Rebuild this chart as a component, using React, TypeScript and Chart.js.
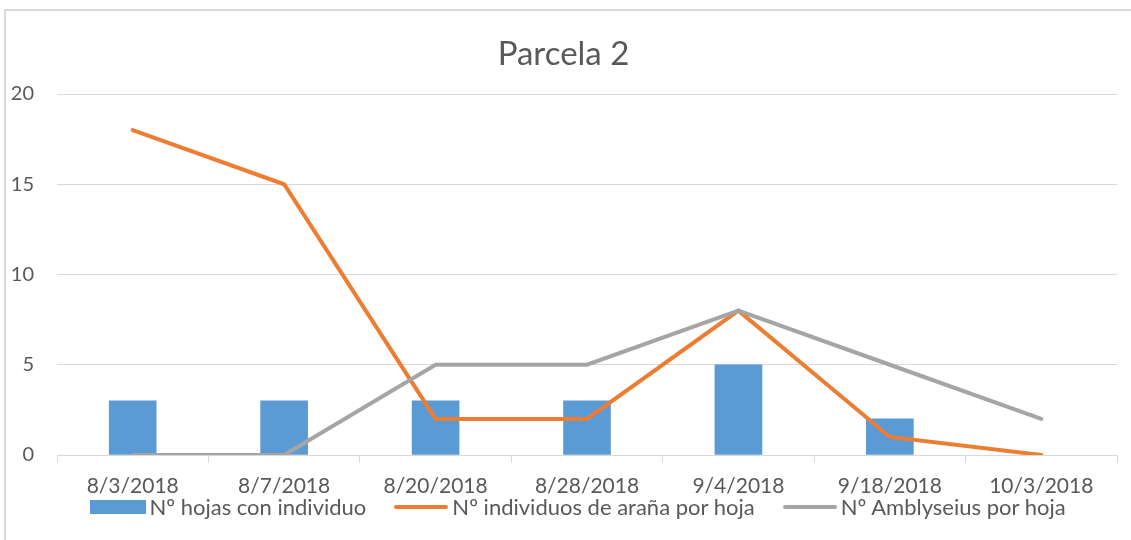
import React, { useEffect, useRef } from "react";
import { Chart, registerables } from "chart.js";

Chart.register(...registerables);

const categories = ["8/3/2018", "8/7/2018", "8/20/2018", "8/28/2018", "9/4/2018", "9/18/2018", "10/3/2018"];
const seriesNames = ["Nº hojas con individuo", "Nº individuos de araña por hoja", "Nº Amblyseius por hoja"];
const hojasConIndividuo = [3, 3, 3, 3, 5, 2, 0];
const individuosArana = [18, 15, 2, 2, 8, 1, 0];
const amblyseius = [0, 0, 5, 5, 8, 5, 2];
const yMin = 0;
const yMax = 20;
const yStep = 5;

const FONT = "Lato, 'Open Sans', sans-serif";
const TEXT = "#595959";
const GRID = "#d9d9d9";
const COLORS = ["#5B9BD5", "#ED7D31", "#A5A5A5"];

export default function App() {
  const ref = useRef<HTMLCanvasElement | null>(null);

  useEffect(() => {
    if (!ref.current) return;
    const chart = new Chart(ref.current, {
      type: "bar",
      data: {
        labels: categories,
        datasets: [
          {
            type: "bar",
            label: seriesNames[0],
            data: hojasConIndividuo,
            backgroundColor: (ctx: any) => (ctx.raw === 0 ? "rgba(0,0,0,0)" : COLORS[0]),
            borderWidth: 0,
            barThickness: 47,
            order: 3,
          } as any,
          {
            type: "line",
            label: seriesNames[1],
            data: individuosArana,
            borderColor: COLORS[1],
            backgroundColor: COLORS[1],
            borderWidth: 4,
            pointRadius: 0,
            borderCapStyle: "round",
            tension: 0,
            order: 2,
          } as any,
          {
            type: "line",
            label: seriesNames[2],
            data: amblyseius,
            borderColor: COLORS[2],
            backgroundColor: COLORS[2],
            borderWidth: 4,
            pointRadius: 0,
            borderCapStyle: "round",
            tension: 0,
            order: 1,
          } as any,
        ],
      },
      options: {
        animation: false,
        responsive: false,
        layout: { padding: { left: 10, right: 14, top: 0, bottom: 29.8 } },
        scales: {
          x: {
            offset: true,
            grid: { display: true, drawOnChartArea: false, tickLength: 8, color: GRID, offset: true },
            border: { display: true, color: GRID },
            ticks: { color: TEXT, font: { family: FONT, size: 21 }, padding: 11, maxRotation: 0 },
          },
          y: {
            min: yMin,
            max: yMax,
            ticks: { stepSize: yStep, color: TEXT, font: { family: FONT, size: 20 }, padding: 23 },
            grid: { color: GRID, drawTicks: false },
            border: { display: false },
            afterFit: (scale: any) => {
              scale.width = 47;
            },
          },
        },
        plugins: {
          title: {
            display: true,
            text: "Parcela 2",
            color: TEXT,
            font: { family: FONT, size: 33, weight: "normal" },
            padding: { top: 35, bottom: 19.4 },
          },
          legend: { display: false },
          tooltip: { enabled: false },
        },
      },
    });
    return () => chart.destroy();
  }, []);

  const legendText: React.CSSProperties = {
    fontFamily: FONT,
    fontSize: 22,
    color: TEXT,
    whiteSpace: "nowrap",
    lineHeight: "24px",
  };

  return (
    <div style={{ position: "fixed", left: 0, top: 0, width: 1131, height: 540, overflow: "hidden", background: "#fff" }}>
      <div
        style={{
          position: "absolute",
          left: 4,
          top: 9,
          width: 1127,
          height: 531,
          borderLeft: `2px solid ${GRID}`,
          borderTop: `2px solid ${GRID}`,
          boxSizing: "border-box",
        }}
      />
      <canvas ref={ref} width={1131} height={540} style={{ position: "absolute", left: 0, top: 0 }} />
      <div
        style={{
          position: "absolute",
          left: 0,
          width: 1156,
          top: 495,
          height: 24,
          display: "flex",
          justifyContent: "center",
          alignItems: "center",
          gap: 28,
        }}
      >
        <div style={{ display: "flex", alignItems: "center", gap: 3 }}>
          <span style={{ display: "inline-block", width: 56, height: 14, background: COLORS[0] }} />
          <span style={legendText}>{seriesNames[0]}</span>
        </div>
        <div style={{ display: "flex", alignItems: "center", gap: 4 }}>
          <span style={{ display: "inline-block", width: 54, height: 4, borderRadius: 2, background: COLORS[1] }} />
          <span style={legendText}>{seriesNames[1]}</span>
        </div>
        <div style={{ display: "flex", alignItems: "center", gap: 4 }}>
          <span style={{ display: "inline-block", width: 54, height: 4, borderRadius: 2, background: COLORS[2] }} />
          <span style={legendText}>{seriesNames[2]}</span>
        </div>
      </div>
    </div>
  );
}
